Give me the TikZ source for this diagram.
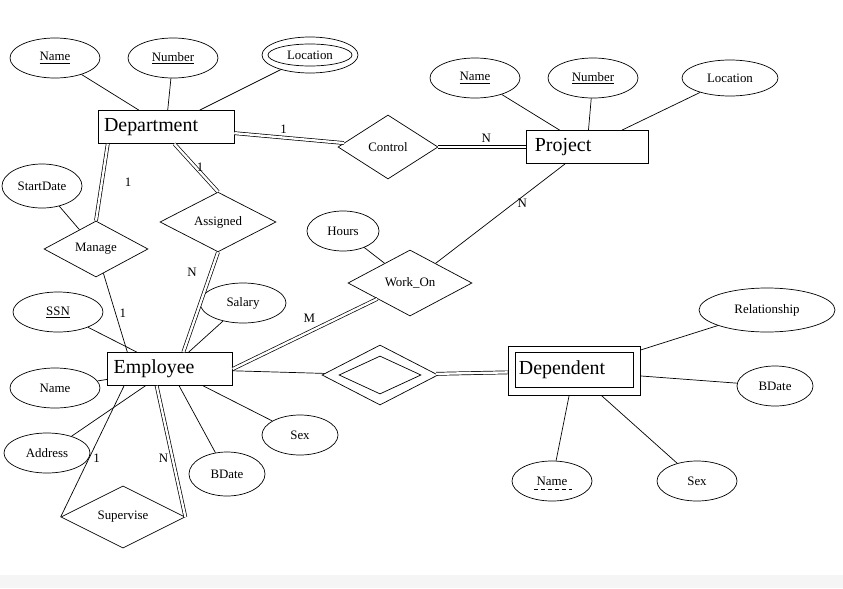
\documentclass[tikz,border=0pt]{standalone}
\usepackage{fontspec}
\setmainfont{Liberation Serif}
\usetikzlibrary{shapes.geometric}
\tikzstyle{entity}=[draw, rectangle, inner sep=0pt, font=\fontsize{17}{20}\selectfont]
\tikzstyle{attr}=[draw, ellipse, inner sep=0pt, font=\fontsize{11}{13}\selectfont]
\tikzstyle{rel}=[draw, diamond, inner sep=0pt, font=\fontsize{11}{13}\selectfont]
\tikzstyle{edge} = [draw,-]
\tikzstyle{total} = [draw,double,double distance=2pt]
\tikzstyle{card} = [font=\fontsize{11}{13}\selectfont]

\begin{document}
\begin{tikzpicture}[x=0.03cm, y=-0.03cm, line width=0.6pt]
  \useasboundingbox (0,0) rectangle (843,588);
  \fill[gray!8] (0,575) rectangle (843,588);
  % entities
  \node[entity, minimum width=123*0.03cm, minimum height=33*0.03cm] (dept) at (166,127) {\hspace*{0.3em}Department\hspace*{1.8em}};
  \node[entity, minimum width=122*0.03cm, minimum height=33*0.03cm] (proj) at (587,147) {\hspace*{0.3em}Project\hspace*{2.7em}};
  \node[entity, minimum width=124*0.03cm, minimum height=33*0.03cm] (emp) at (170,369) {\hspace*{0.3em}Employee\hspace*{1.9em}};
  \node[entity, minimum width=132*0.03cm, minimum height=49*0.03cm] (dep) at (574,371) {};
  \node[entity, minimum width=118*0.03cm, minimum height=35*0.03cm] (depin) at (574,370) {\hspace*{0.2em}Dependent\hspace*{1.4em}};
  % relationships
  \node[rel, minimum width=100*0.03cm, minimum height=64*0.03cm] (control) at (388,147) {Control};
  \node[rel, minimum width=104*0.03cm, minimum height=56*0.03cm] (manage) at (96,249) {Manage};
  \node[rel, minimum width=116*0.03cm, minimum height=56*0.03cm] (assigned) at (218,222) {Assigned};
  \node[rel, minimum width=124*0.03cm, minimum height=66*0.03cm] (workon) at (410,283) {Work\_On};
  \node[rel, minimum width=124*0.03cm, minimum height=60*0.03cm] (supervise) at (123,517) {Supervise};
  \node[rel, minimum width=116*0.03cm, minimum height=60*0.03cm] (depof) at (380,375) {};
  \node[rel, minimum width=82*0.03cm, minimum height=38*0.03cm] (depofin) at (380,375) {};
  % attributes
  \node[attr, minimum width=90*0.03cm, minimum height=40*0.03cm] (dname) at (55,58) {\underline{Name}};
  \node[attr, minimum width=90*0.03cm, minimum height=40*0.03cm] (dnumber) at (173,58) {\underline{Number}};
  \node[attr, minimum width=96*0.03cm, minimum height=36*0.03cm] (dloc) at (310,55) {};
  \node[attr, minimum width=84*0.03cm, minimum height=22*0.03cm] at (310,55) {Location};
  \node[attr, minimum width=90*0.03cm, minimum height=40*0.03cm] (pname) at (475,78) {\underline{Name}};
  \node[attr, minimum width=90*0.03cm, minimum height=40*0.03cm] (pnumber) at (593,78) {\underline{Number}};
  \node[attr, minimum width=96*0.03cm, minimum height=36*0.03cm] (ploc) at (730,78) {Location};
  \node[attr, minimum width=80*0.03cm, minimum height=44*0.03cm] (start) at (42,186) {StartDate};
  \node[attr, minimum width=72*0.03cm, minimum height=40*0.03cm] (hours) at (343,231) {Hours};
  \node[attr, minimum width=90*0.03cm, minimum height=40*0.03cm] (ssn) at (58,312) {\underline{SSN}};
  \node[attr, minimum width=86*0.03cm, minimum height=40*0.03cm] (salary) at (243,303) {Salary};
  \node[attr, minimum width=90*0.03cm, minimum height=40*0.03cm] (ename) at (55,388) {Name};
  \node[attr, minimum width=86*0.03cm, minimum height=40*0.03cm] (address) at (47,453) {Address};
  \node[attr, minimum width=76*0.03cm, minimum height=40*0.03cm] (esex) at (300,435) {Sex};
  \node[attr, minimum width=76*0.03cm, minimum height=44*0.03cm] (ebdate) at (227,474) {BDate};
  \node[attr, minimum width=136*0.03cm, minimum height=44*0.03cm] (relship) at (767,310) {Relationship};
  \node[attr, minimum width=76*0.03cm, minimum height=40*0.03cm] (dbdate) at (775,386) {BDate};
  \node[attr, minimum width=80*0.03cm, minimum height=40*0.03cm] (depname) at (552,481) {Name};
  \draw[dashed] (534,489) -- (572,489);
  \node[attr, minimum width=80*0.03cm, minimum height=40*0.03cm] (depsex) at (697,481) {Sex};
  % connectors
  \path[total] (dept) -- node[card, above, pos=.45] {1} (control);
  \path[total] (control) -- node[card, above, pos=.55] {N} (proj);
  \path[total] ([xshift=0.3cm]dept.south west) -- (manage.north);
  \node[card] at (128,182) {1};
  \path[edge] (manage) -- node[card, right] {1} ([xshift=0.6cm]emp.north west);
  \path[total] ([xshift=0.25cm]dept.south) -- (assigned.north);
  \node[card] at (200,167) {1};
  \path[total] (assigned.south) -- ([xshift=0.4cm]emp.north);
  \node[card] at (192,272) {N};
  \path[edge] (start) -- (manage);
  \path[edge] (proj) -- node[card, right, pos=.4] {N} (workon);
  \path[total] (workon) -- node[card, above left, pos=.4] {M} (emp.east);
  \path[edge] (hours) -- (workon);
  \path[edge] (emp) -- (depof);
  \path[total] (depof) -- (dep);
  \path[edge] ([xshift=0.5cm]emp.south west) -- node[card, right, pos=.55] {1} (supervise.west);
  \path[total] ([xshift=-0.4cm]emp.south) -- node[card, left, pos=.55] {N} (supervise.east);
  \foreach \a/\b in {dname/dept, dnumber/dept, dloc/dept, pname/proj, pnumber/proj,
                     ploc/proj, ssn/emp, salary/emp, ename/emp, address/emp, esex/emp,
                     ebdate/emp, relship/dep, dbdate/dep, depname/dep, depsex/dep}
      \path[edge] (\a) -- (\b);
\end{tikzpicture}
\end{document}
